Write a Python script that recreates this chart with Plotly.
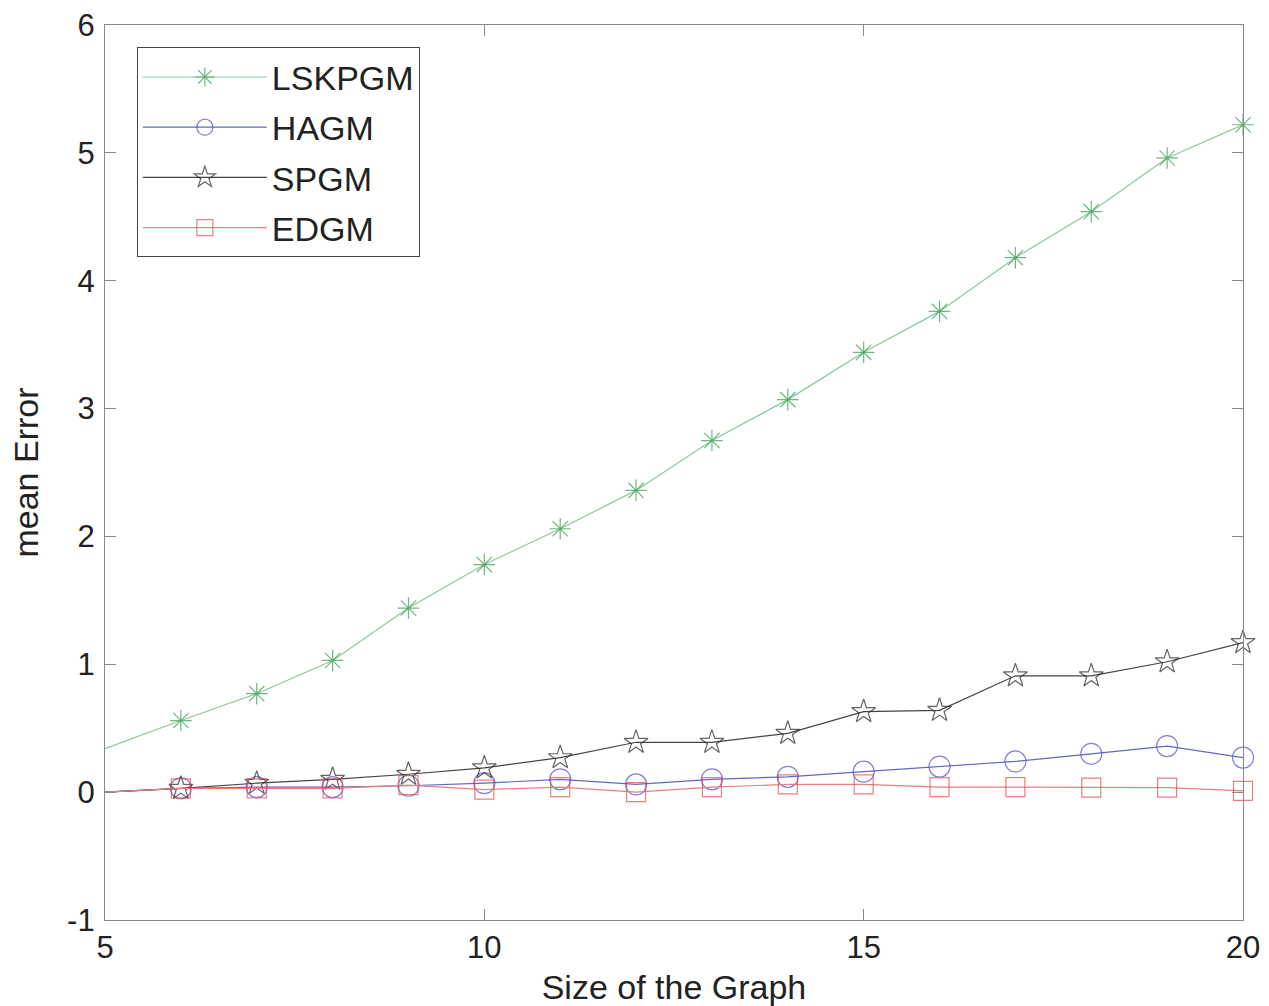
import plotly.graph_objects as go

sizes = [5, 6, 7, 8, 9, 10, 11, 12, 13, 14, 15, 16, 17, 18, 19, 20]
lskpgm = [0.34, 0.56, 0.77, 1.03, 1.44, 1.78, 2.06, 2.36, 2.75, 3.07, 3.44, 3.76, 4.18, 4.54, 4.96, 5.22]
hagm = [0.0, 0.03, 0.04, 0.04, 0.05, 0.07, 0.10, 0.06, 0.10, 0.12, 0.16, 0.20, 0.24, 0.30, 0.36, 0.27]
spgm = [0.0, 0.03, 0.07, 0.10, 0.14, 0.19, 0.27, 0.39, 0.39, 0.46, 0.63, 0.64, 0.91, 0.91, 1.02, 1.17]
edgm = [0.0, 0.03, 0.03, 0.03, 0.055, 0.02, 0.04, 0.0, 0.04, 0.06, 0.06, 0.04, 0.04, 0.035, 0.035, 0.01]

x_ticks = [5, 10, 15, 20]
y_ticks = [-1, 0, 1, 2, 3, 4, 5, 6]

series = [
    ("LSKPGM", lskpgm, "#8cc79a", "#2f9a4a", "asterisk-open", 18),
    ("HAGM", hagm, "#6666c0", "#4b4bc8", "circle-open", 21),
    ("SPGM", spgm, "#444444", "#222222", "star-open", 18),
    ("EDGM", edgm, "#e88080", "#e04848", "square-open", 19),
]

fig = go.Figure()
for name, vals, lc, mc, sym, ms in series:
    msizes = [0] + [ms] * (len(sizes) - 1)
    fig.add_trace(go.Scatter(
        x=sizes, y=vals, name=name, mode="lines+markers",
        legendgroup=name,
        line=dict(color=lc, width=1.2),
        marker=dict(symbol=sym, size=msizes, color=mc,
                    line=dict(color=mc, width=1.2)),
        cliponaxis=False,
    ))

font = "Liberation Sans, Arial, sans-serif"
fig.update_layout(
    width=1269, height=1006,
    margin=dict(l=105, r=26, t=25, b=86, autoexpand=False),
    paper_bgcolor="white", plot_bgcolor="white",
    font=dict(family=font, size=31, color="#222222"),
    showlegend=True,
    legend=dict(
        x=0.028, y=0.975, xanchor="left", yanchor="top",
        bgcolor="white", bordercolor="#444444", borderwidth=1,
        font=dict(size=34, color="#222222"),
        itemsizing="trace", itemwidth=124, tracegroupgap=3,
    ),
    xaxis=dict(
        range=[5, 20], tickvals=x_ticks, ticktext=[str(v) for v in x_ticks],
        showgrid=False, zeroline=False, showline=True, linecolor="#888888",
        linewidth=1.2, mirror="ticks", ticks="inside", ticklen=11,
        tickcolor="#888888", automargin=False,
        title=dict(text="Size of the Graph", font=dict(size=34), standoff=10),
    ),
    yaxis=dict(
        range=[-1, 6], tickvals=y_ticks, ticktext=[str(v) for v in y_ticks],
        showgrid=False, zeroline=False, showline=True, linecolor="#888888",
        linewidth=1.2, mirror="ticks", ticks="inside", ticklen=11,
        tickcolor="#888888", automargin=False, ticklabelstandoff=3,
        title=dict(text="mean Error", font=dict(size=34), standoff=18),
    ),
)

fig.write_html("out.html", config={"displayModeBar": False},
               post_script="document.body.style.margin='0';")
